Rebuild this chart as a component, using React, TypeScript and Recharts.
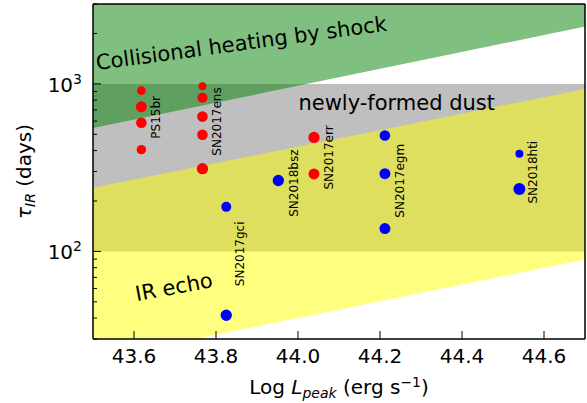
import {
  ComposedChart,
  Area,
  Scatter,
  XAxis,
  YAxis,
  ZAxis,
  ReferenceLine,
  Label,
} from "recharts";

// shaded regions, given at the two ends of the x range (power laws are straight in log-log)
const bandLum = [43.5, 44.7];
const shockFloor = [545, 2200];
const tauTop = [3000, 3000];
const dustFloor = [100, 100];
const dustCeil = [1000, 1000];
const echoFloor = [22.5, 89.6];
const echoCeil = [240, 933];

// measured objects (w = marker weight)
const redPoints = [
  { x: 43.618, tau: 912, w: 18.5 },
  { x: 43.618, tau: 730, w: 30 },
  { x: 43.618, tau: 586, w: 28 },
  { x: 43.618, tau: 405, w: 22 },
  { x: 43.767, tau: 969, w: 16 },
  { x: 43.767, tau: 828, w: 25 },
  { x: 43.767, tau: 638, w: 28 },
  { x: 43.767, tau: 497, w: 28 },
  { x: 43.767, tau: 312, w: 32 },
  { x: 44.039, tau: 479, w: 32 },
  { x: 44.039, tau: 290, w: 30 },
];
const bluePoints = [
  { x: 43.825, tau: 184.5, w: 25 },
  { x: 43.825, tau: 41.6, w: 32 },
  { x: 43.952, tau: 265, w: 32 },
  { x: 44.212, tau: 492, w: 28 },
  { x: 44.212, tau: 291, w: 30 },
  { x: 44.212, tau: 137, w: 30 },
  { x: 44.54, tau: 383, w: 16 },
  { x: 44.54, tau: 236, w: 36 },
];

const objectLabels = [
  { x: 43.663, tau: 471, name: "PS15br" },
  { x: 43.813, tau: 373, name: "SN2017ens" },
  { x: 43.869, tau: 62, name: "SN2017gci" },
  { x: 44.0, tau: 161, name: "SN2018bsz" },
  { x: 44.085, tau: 234, name: "SN2017err" },
  { x: 44.258, tau: 159, name: "SN2017egm" },
  { x: 44.583, tau: 193, name: "SN2018hti" },
];

const regionLabels = [
  { x: 43.51, tau: 1212, name: "Collisional heating by shock" },
  { x: 44.001, tau: 700, name: "newly-formed dust" },
  { x: 43.607, tau: 50.4, name: "IR echo" },
];
const regionTilt: Record<string, number> = {
  "Collisional heating by shock": -7.7,
  "newly-formed dust": 0,
  "IR echo": -10.6,
};

const xTicks = [43.6, 43.8, 44.0, 44.2, 44.4, 44.6];
const yTicks = [30, 40, 50, 60, 70, 80, 90, 100, 200, 300, 400, 500, 600, 700, 800, 900, 1000, 2000, 3000];
const yMajor = [100, 1000];

const bands = bandLum.map((x, i) => ({
  x,
  shock: [shockFloor[i], tauTop[i]],
  dust: [dustFloor[i], dustCeil[i]],
  echo: [echoFloor[i], echoCeil[i]],
}));

const XTick = ({ x, y, payload }: any) => (
  <g>
    <line x1={x} x2={x} y1={y} y2={y - 8} stroke="#000" strokeWidth={1} />
    <text x={x} y={y + 24} textAnchor="middle" fontSize={20} fill="#000">
      {payload.value.toFixed(1)}
    </text>
  </g>
);

const YTick = ({ x, y, payload }: any) => {
  const major = yMajor.includes(payload.value);
  return (
    <g>
      <line x1={x} x2={x + (major ? 8 : 4)} y1={y} y2={y} stroke="#000" strokeWidth={1} />
      {major && (
        <text x={x - 11} y={y + 8} textAnchor="end" fontSize={20} fill="#000">
          10
          <tspan dy={-8} fontSize={14}>
            {Math.round(Math.log10(payload.value))}
          </tspan>
        </text>
      )}
    </g>
  );
};

const ObjectLabel = ({ cx, cy, payload }: any) => (
  <text
    x={cx}
    y={cy}
    transform={`rotate(-90 ${cx} ${cy})`}
    fontSize={12}
    fill="#000"
  >
    {payload.name}
  </text>
);

const RegionLabel = ({ cx, cy, payload }: any) => (
  <text
    x={cx}
    y={cy}
    transform={`rotate(${regionTilt[payload.name]} ${cx} ${cy})`}
    fontSize={21}
    fill="#000"
  >
    {payload.name}
  </text>
);

const XTitle = ({ viewBox }: any) => (
  <text x={viewBox.x + viewBox.width / 2} y={viewBox.y + 55} textAnchor="middle" fontSize={20} fill="#000">
    {"Log "}
    <tspan fontStyle="italic">L</tspan>
    <tspan fontStyle="italic" fontSize={14} dy={4}>peak</tspan>
    <tspan dy={-4}>{" (erg s"}</tspan>
    <tspan fontSize={14} dy={-7}>−1</tspan>
    <tspan dy={7}>)</tspan>
  </text>
);

const YTitle = ({ viewBox }: any) => {
  const cx = viewBox.x + 31;
  const cy = viewBox.y + viewBox.height / 2;
  return (
    <text x={cx} y={cy} transform={`rotate(-90 ${cx} ${cy})`} textAnchor="middle" fontSize={20} fill="#000">
      <tspan fontStyle="italic">τ</tspan>
      <tspan fontStyle="italic" fontSize={14} dy={4}>IR</tspan>
      <tspan dy={-4}>{" (days)"}</tspan>
    </text>
  );
};

export default function App() {
  return (
    <div
      style={{
        position: "absolute",
        left: 0,
        top: 0,
        width: 587,
        height: 403,
        background: "#fff",
        fontFamily: "'DejaVu Sans', sans-serif",
      }}
    >
      <ComposedChart width={587} height={403} data={bands} margin={{ top: 4, right: 2, bottom: 0, left: 0 }}>
        <XAxis
          dataKey="x"
          type="number"
          domain={[43.5, 44.7]}
          allowDataOverflow
          ticks={xTicks}
          interval={0}
          tick={<XTick />}
          tickLine={false}
          tickSize={0}
          tickMargin={0}
          height={64}
          axisLine={{ stroke: "#000", strokeWidth: 1.5 }}
        >
          <Label content={<XTitle />} />
        </XAxis>
        <YAxis
          scale="log"
          type="number"
          domain={[30, 3000]}
          allowDataOverflow
          ticks={yTicks}
          interval={0}
          tick={<YTick />}
          tickLine={false}
          tickSize={0}
          tickMargin={0}
          width={93}
          axisLine={{ stroke: "#000", strokeWidth: 1.5 }}
        >
          <Label content={<YTitle />} />
        </YAxis>
        <ZAxis dataKey="w" type="number" domain={[0, 40]} range={[0, 40 * Math.PI]} />
        <Area
          dataKey="dust"
          type="linear"
          fill="#808080"
          fillOpacity={0.5}
          stroke="none"
          isAnimationActive={false}
        />
        <Area
          dataKey="echo"
          type="linear"
          fill="#ffff00"
          fillOpacity={0.5}
          stroke="none"
          isAnimationActive={false}
        />
        <Area
          dataKey="shock"
          type="linear"
          fill="#008000"
          fillOpacity={0.5}
          stroke="none"
          isAnimationActive={false}
        />
        <ReferenceLine y={3000} stroke="#000" strokeWidth={1.5} />
        <ReferenceLine x={44.7} stroke="#000" strokeWidth={1.5} />
        <Scatter data={redPoints} dataKey="tau" fill="#ff0000" isAnimationActive={false} />
        <Scatter data={bluePoints} dataKey="tau" fill="#0000ff" isAnimationActive={false} />
        <Scatter data={objectLabels} dataKey="tau" shape={<ObjectLabel />} isAnimationActive={false} />
        <Scatter data={regionLabels} dataKey="tau" shape={<RegionLabel />} isAnimationActive={false} />
      </ComposedChart>
    </div>
  );
}
